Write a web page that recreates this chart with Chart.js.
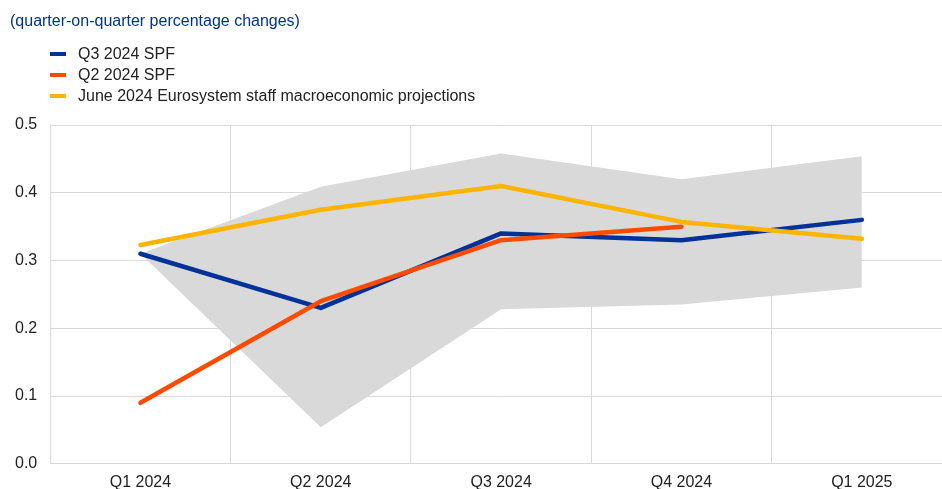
<!DOCTYPE html>
<html>
<head>
<meta charset="utf-8">
<script src="https://cdn.jsdelivr.net/npm/chart.js@4"></script>
<style>
    body { margin: 0; width: 942px; height: 489px; overflow: hidden; background: #fff; font-family: Arial, "Liberation Sans", sans-serif; }
    .title { position: absolute; left: 10px; top: 12px; font-size: 16px; color: #003299; }
    .legend { position: absolute; left: 50px; top: 43px; font-size: 16px; color: #222; }
    .legend div { height: 21px; line-height: 21px; white-space: nowrap; }
    .legend span { display: inline-block; width: 16px; height: 4px; margin-right: 12px; vertical-align: middle; position: relative; top: -1px; }
    #chart { position: absolute; left: 0; top: 0; }
</style>
</head>
<body>
<canvas id="chart" width="952" height="501"></canvas>
<div class="title">(quarter-on-quarter percentage changes)</div>
<div class="legend" id="legend"></div>

<script>
    // categories and values
    const quarters = ["Q1 2024", "Q2 2024", "Q3 2024", "Q4 2024", "Q1 2025"];
    const spfQ3 = [0.31, 0.23, 0.34, 0.33, 0.36];
    const spfQ2 = [0.09, 0.24, 0.33, 0.35, null];
    const bmpeJune = [0.323, 0.375, 0.41, 0.357, 0.332];
    const rangeLow = [0.31, 0.054, 0.228, 0.235, 0.26];
    const rangeHigh = [0.31, 0.409, 0.458, 0.42, 0.454];
    const yTicks = [0, 0.1, 0.2, 0.3, 0.4, 0.5];

    const series = [
        { label: "Q3 2024 SPF", data: spfQ3, color: "#003299", order: 3 },
        { label: "Q2 2024 SPF", data: spfQ2, color: "#ff4b00", order: 2 },
        { label: "June 2024 Eurosystem staff macroeconomic projections", data: bmpeJune, color: "#ffb400", order: 1 },
    ];

    // legend (vertical list, as in the original)
    const legendEl = document.getElementById("legend");
    series.forEach(s => {
        const row = document.createElement("div");
        row.innerHTML = '<span style="background:' + s.color + '"></span>' + s.label;
        legendEl.appendChild(row);
    });

    const lineSets = series.map(s => ({
        label: s.label,
        data: s.data,
        borderColor: s.color,
        backgroundColor: s.color,
        borderWidth: 4.5,
        borderCapStyle: "round",
        borderJoinStyle: "round",
        pointRadius: 0,
        tension: 0,
        fill: false,
        order: s.order,
    }));

    const ctx = document.getElementById("chart").getContext("2d");
    new Chart(ctx, {
        type: "line",
        data: {
            labels: quarters,
            datasets: [
                ...lineSets,
                { label: "low", data: rangeLow, borderWidth: 0, pointRadius: 0, fill: false, order: 10 },
                { label: "high", data: rangeHigh, borderWidth: 0, pointRadius: 0, backgroundColor: "#d9d9d9", fill: "-1", order: 10 },
            ],
        },
        options: {
            responsive: false,
            animation: false,
            layout: { padding: { top: 125, left: 2, right: 0, bottom: 0 } },
            plugins: {
                legend: { display: false },
                tooltip: { enabled: false },
            },
            scales: {
                x: {
                    offset: true,
                    grid: { color: "#d9d9d9", lineWidth: 1, drawTicks: false, offset: true },
                    border: { color: "#d9d9d9" },
                    ticks: { color: "#222", font: { family: "Arial, 'Liberation Sans'", size: 16 }, padding: 9, maxRotation: 0 },
                },
                y: {
                    min: 0,
                    max: 0.5,
                    afterBuildTicks: axis => { axis.ticks = yTicks.map(v => ({ value: v })); },
                    grid: { color: "#d9d9d9", lineWidth: 1, drawTicks: false },
                    border: { color: "#d9d9d9" },
                    ticks: {
                        color: "#222",
                        font: { family: "Arial, 'Liberation Sans'", size: 16 },
                        padding: 13,
                        callback: v => v.toFixed(1),
                    },
                },
            },
        },
    });
</script>
</body>
</html>
